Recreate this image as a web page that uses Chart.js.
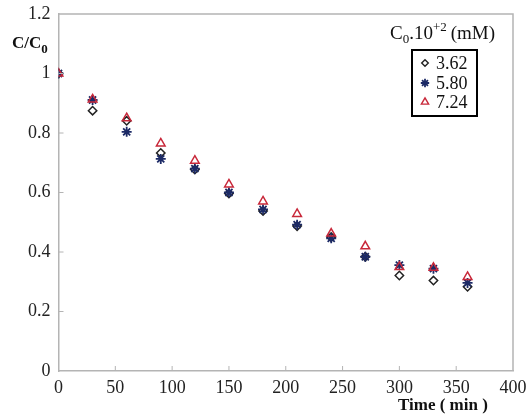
<!DOCTYPE html>
<html>
<head>
<meta charset="utf-8">
<script src="https://cdn.jsdelivr.net/npm/chart.js@4/dist/chart.umd.min.js"></script>
<style>
html,body{margin:0;padding:0;background:#fff;}
#wrap{width:527px;height:415px;position:relative;}
</style>
</head>
<body>
<div id="wrap"><canvas id="c" width="527" height="415"></canvas></div>
<script>
const times = [0, 30, 60, 90, 120, 150, 180, 210, 240, 270, 300, 330, 360];
const c362 = [1, 0.875, 0.841, 0.733, 0.677, 0.597, 0.538, 0.487, 0.45, 0.384, 0.321, 0.304, 0.283];
const c580 = [1, 0.911, 0.804, 0.713, 0.68, 0.60, 0.543, 0.492, 0.446, 0.384, 0.356, 0.344, 0.296];
const c724 = [1, 0.913, 0.85, 0.765, 0.707, 0.627, 0.57, 0.528, 0.462, 0.419, 0.35, 0.347, 0.316];
const seriesLabels = ['3.62', '5.80', '7.24'];
const xTicks = [0, 50, 100, 150, 200, 250, 300, 350, 400];
const yTicks = [0, 0.2, 0.4, 0.6, 0.8, 1, 1.2];

const SERIF = '"Liberation Serif", "Times New Roman", serif';
const FRAME = '#b4b4b4';

function pts(vals){ return times.map((t,i)=>({x:t, y:vals[i]})); }

const overlay = {
  id: 'overlay',
  afterDraw(chart){
    const ctx = chart.ctx;
    const a = chart.chartArea;
    const xs = chart.scales.x, ys = chart.scales.y;
    ctx.save();
    ctx.strokeStyle = FRAME; ctx.lineWidth = 1.5;
    ctx.beginPath();
    ctx.moveTo(a.left, a.top); ctx.lineTo(a.right, a.top); ctx.lineTo(a.right, a.bottom);
    ctx.stroke();
    ctx.lineWidth = 1;
    ctx.beginPath();
    xTicks.forEach(v=>{ if(v>0 && v<400){ const px = xs.getPixelForValue(v); ctx.moveTo(px, a.bottom); ctx.lineTo(px, a.bottom-5);} });
    yTicks.forEach(v=>{ if(v>0 && v<1.2){ const py = ys.getPixelForValue(v); ctx.moveTo(a.left, py); ctx.lineTo(a.left+5, py);} });
    ctx.stroke();

    ctx.fillStyle = '#111';
    ctx.textBaseline = 'alphabetic'; ctx.textAlign = 'left';
    ctx.font = 'bold 17px ' + SERIF;
    ctx.fillText('C/C', 12, 48);
    let w = ctx.measureText('C/C').width;
    ctx.font = 'bold 13px ' + SERIF;
    ctx.fillText('0', 12 + w, 53);

    ctx.font = 'bold 17px ' + SERIF;
    ctx.fillText('Time ( min )', 398, 410);

    let x = 390;
    ctx.font = '19px ' + SERIF;
    ctx.fillText('C', x, 39); x += ctx.measureText('C').width;
    ctx.font = '13px ' + SERIF;
    ctx.fillText('0', x, 43); x += ctx.measureText('0').width;
    ctx.font = '19px ' + SERIF;
    ctx.fillText('.10', x, 39); x += ctx.measureText('.10').width;
    ctx.font = '13px ' + SERIF;
    ctx.fillText('+2', x, 31); x += ctx.measureText('+2').width + 4;
    ctx.font = '19px ' + SERIF;
    ctx.fillText('(mM)', x, 39);

    ctx.strokeStyle = '#000'; ctx.lineWidth = 2;
    ctx.strokeRect(412, 50, 65, 66);
    const rows = [63, 83, 102];
    const dsets = chart.data.datasets;
    rows.forEach((ry, i)=>{
      const ds = dsets[i];
      const r = i===0 ? 3.3 : 4.2;
      const opts = {pointStyle: ds.pointStyle, radius: r, borderWidth: 1.4, rotation: 0};
      ctx.strokeStyle = ds.borderColor; ctx.fillStyle = ds.backgroundColor; ctx.lineWidth = i===1 ? 1.8 : 1.4;
      if (Chart.helpers && Chart.helpers.drawPoint) {
        Chart.helpers.drawPoint(ctx, opts, 425, ry);
      }
      ctx.fillStyle = '#111';
      ctx.font = '18px ' + SERIF;
      ctx.textBaseline = 'middle';
      ctx.fillText(seriesLabels[i], 436, ry + 1);
    });
    ctx.restore();
  }
};

new Chart(document.getElementById('c'), {
  type: 'scatter',
  data: {
    datasets: [
      { label: seriesLabels[0], data: pts(c362), pointStyle: 'rectRot', pointRadius: 4.2, pointBorderWidth: 1.5,
        borderColor: '#222', backgroundColor: '#ffffff', order: 2 },
      { label: seriesLabels[1], data: pts(c580), pointStyle: 'star', pointRadius: 5, pointBorderWidth: 1.8,
        borderColor: '#1c2a66', backgroundColor: '#1c2a66', order: 1 },
      { label: seriesLabels[2], data: pts(c724), pointStyle: 'triangle', pointRadius: 5, pointBorderWidth: 1.5,
        borderColor: '#c8283a', backgroundColor: 'rgba(255,255,255,0)', order: 0 }
    ]
  },
  options: {
    responsive: false,
    animation: false,
    devicePixelRatio: 1,
    layout: { padding: { top: 14, right: 14, bottom: 0, left: 0 } },
    plugins: { legend: { display: false }, tooltip: { enabled: false } },
    scales: {
      x: {
        type: 'linear', min: 0, max: 400,
        afterFit(s){ s.height = 44; s.paddingLeft = 0; s.paddingRight = 0; },
        afterBuildTicks(s){ s.ticks = xTicks.map(v=>({value:v})); },
        grid: { display: true, drawOnChartArea: false, drawTicks: false },
        border: { color: FRAME, width: 1.5 },
        ticks: { font: { family: SERIF, size: 18 }, color: '#222', padding: 6, maxRotation: 0, autoSkip: false }
      },
      y: {
        min: 0, max: 1.2,
        afterFit(s){ s.width = 58.5; s.paddingTop = 0; s.paddingBottom = 0; },
        afterBuildTicks(s){ s.ticks = yTicks.map(v=>({value:v})); },
        grid: { display: true, drawOnChartArea: false, drawTicks: false },
        border: { color: FRAME, width: 1.5 },
        ticks: { font: { family: SERIF, size: 18 }, color: '#222', padding: 8, autoSkip: false,
          callback: (v)=> String(Math.round(v*10)/10) }
      }
    }
  },
  plugins: [overlay]
});
</script>
</body>
</html>
